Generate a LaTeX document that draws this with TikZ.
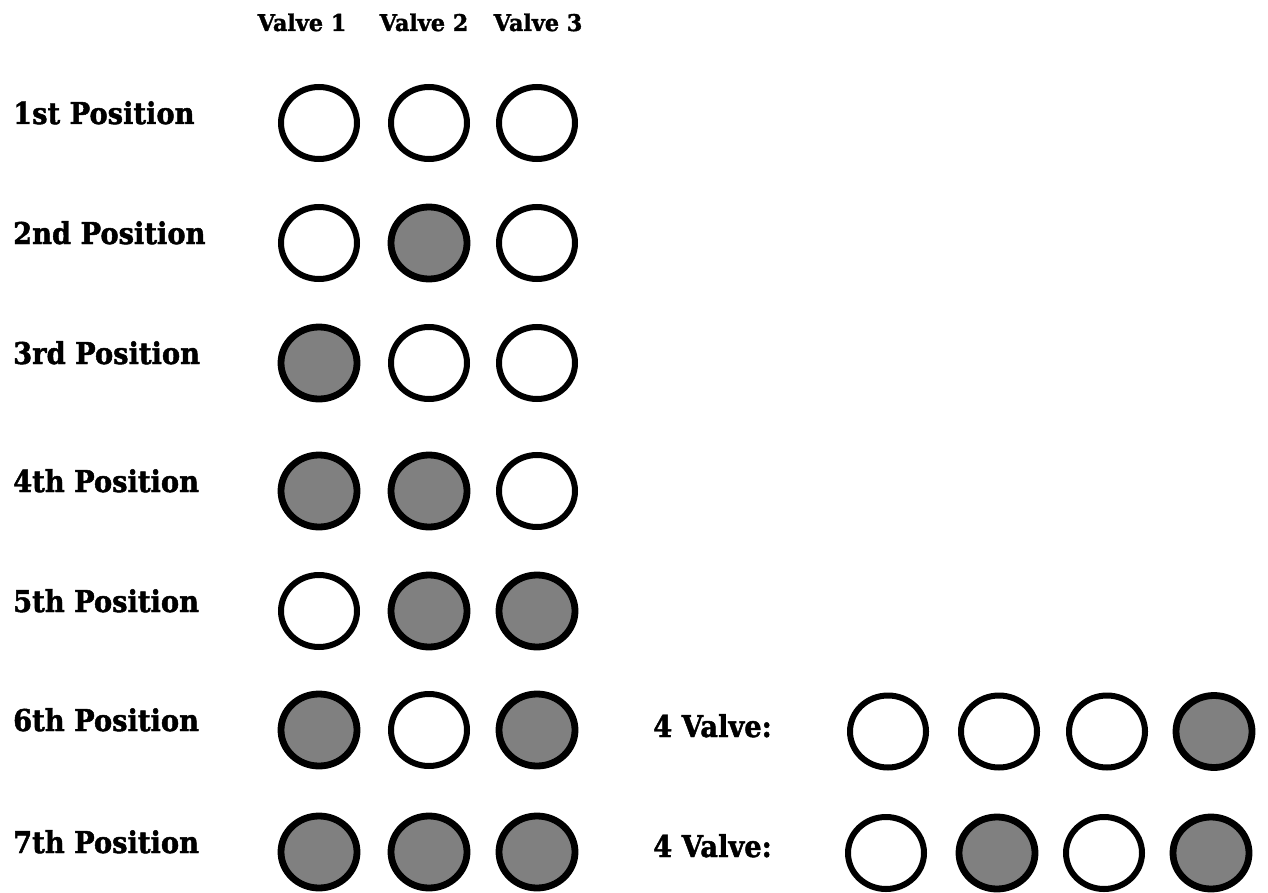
\documentclass[tikz,border=0pt]{standalone}
\usepackage{fontspec}
\setmainfont{DejaVu Serif}[BoldFeatures={FakeBold=1.6}]
\usepackage{graphicx}
\usetikzlibrary{shapes.geometric}
\definecolor{valvegray}{RGB}{128,128,128}
\tikzset{
  valvebase/.style={shape=ellipse, minimum width=76pt, minimum height=72pt, inner sep=0pt, draw=black},
  vo/.style={valvebase, line width=6pt, fill=white},
  vf/.style={valvebase, line width=6.8pt, fill=valvegray},
  poslabel/.style={anchor=base west, inner sep=0pt, font=\fontsize{30}{36}\selectfont\bfseries},
  headlabel/.style={anchor=base, inner sep=0pt, font=\fontsize{23}{28}\selectfont\bfseries}
}
\begin{document}
\begin{tikzpicture}[x=1pt,y=-1pt]
\useasboundingbox (0,0) rectangle (1268,893);
% column headers
\node[headlabel] (h1) at (302,31) {\scalebox{0.97}[1]{Valve 1}};
\node[headlabel] (h2) at (424,31) {\scalebox{0.97}[1]{Valve 2}};
\node[headlabel] (h3) at (538,31) {\scalebox{0.97}[1]{Valve 3}};
% rows
\foreach \yy/\sa/\sb/\sc/\nn/\txt in {
  123/vo/vo/vo/1/1st Position,
  243/vo/vf/vo/2/2nd Position,
  363/vf/vo/vo/3/3rd Position,
  491/vf/vf/vo/4/4th Position,
  611/vo/vf/vf/5/5th Position,
  730/vf/vo/vf/6/6th Position,
  852/vf/vf/vf/7/7th Position}{
  \node[poslabel] (p\nn) at (13,\yy+1) {\scalebox{0.91}[1]{\txt}};
  \node[\sa] (r\nn c1) at (319,\yy) {};
  \node[\sb] (r\nn c2) at (429,\yy) {};
  \node[\sc] (r\nn c3) at (537,\yy) {};
}
% four-valve rows
\node[poslabel] (fv1) at (653,737) {\scalebox{0.91}[1]{4 Valve:}};
\node[vo] (f1c1) at (888,731.5) {};
\node[vo] (f1c2) at (999,731.5) {};
\node[vo] (f1c3) at (1107,731.5) {};
\node[vf] (f1c4) at (1214,731.5) {};
\node[poslabel] (fv2) at (653,857) {\scalebox{0.91}[1]{4 Valve:}};
\node[vo] (f2c1) at (886,853) {};
\node[vf] (f2c2) at (997,853) {};
\node[vo] (f2c3) at (1104,853) {};
\node[vf] (f2c4) at (1211,853) {};
\end{tikzpicture}
\end{document}
